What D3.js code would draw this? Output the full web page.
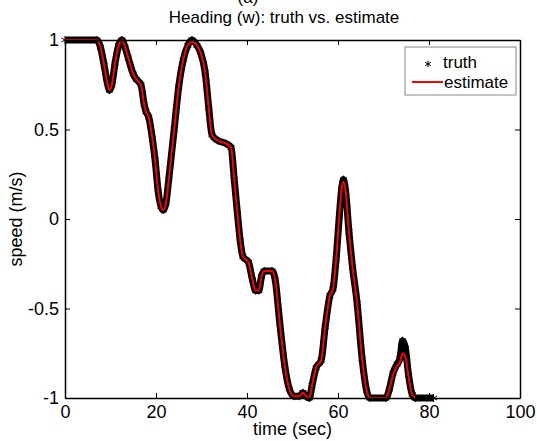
<!DOCTYPE html>
<html>
<head>
<script src="https://d3js.org/d3.v7.min.js"></script>
<style>
  body { margin: 0; background: #fff; }
  text { font-family: "Liberation Sans", Arial, sans-serif; fill: #000; }
</style>
</head>
<body>
<svg width="537" height="441"></svg>
<script>
// truth samples (time in sec, heading speed)
const truthTime = [0, 7, 7.8, 8.6, 9.3, 9.8, 10.3, 11, 11.8, 12.5, 13.2, 13.9, 15, 15.7, 16.7, 17.4, 17.8, 18.4, 19.2, 19.8,
  20.5, 21.1, 21.6, 22.2, 22.8, 24, 25, 26, 27, 27.9, 29, 29.8, 30.8, 31.6, 32.3, 33.5, 35.5, 36.5, 37.2, 37.9,
  38.5, 39.1, 40.3, 41.2, 41.9, 42.6, 43.2, 43.8, 45.5, 46.2, 47.2, 48.3, 49.3, 50.3, 51.5, 52.3, 53, 53.7, 54.3, 55.2,
  56.3, 57.2, 58.2, 58.9, 59.6, 60.3, 60.8, 61.2, 61.7, 62.4, 63.2, 64.2, 65.3, 66.3, 67, 70.5, 71.3, 72.1, 73, 73.6,
  74.2, 74.8, 75.5, 76.3, 77, 81];
const truthValue = [1, 1, 0.96, 0.86, 0.76, 0.72, 0.75, 0.87, 0.97, 1.0, 0.96, 0.9, 0.81, 0.78, 0.75, 0.64, 0.6, 0.57, 0.45, 0.33,
  0.15, 0.07, 0.05, 0.09, 0.22, 0.5, 0.74, 0.89, 0.97, 1.0, 0.97, 0.93, 0.82, 0.62, 0.47, 0.44, 0.42, 0.4, 0.22, 0.03,
  -0.12, -0.21, -0.24, -0.34, -0.4, -0.4, -0.32, -0.29, -0.29, -0.34, -0.58, -0.82, -0.95, -0.99, -0.99, -0.97, -0.99, -1.0, -0.93, -0.83,
  -0.79, -0.6, -0.43, -0.39, -0.22, 0.02, 0.17, 0.22, 0.15, -0.07, -0.27, -0.47, -0.78, -0.96, -1.0, -1.0, -0.95, -0.86, -0.81, -0.78,
  -0.68, -0.72, -0.87, -0.98, -1.0, -1.0];

// estimate (red line), ends before the truth does
const estTime = truthTime.slice(0, truthTime.length - 1);
const estValue = [1, 1, 0.96, 0.86, 0.76, 0.72, 0.75, 0.87, 0.97, 1.0, 0.96, 0.9, 0.81, 0.78, 0.75, 0.64, 0.6, 0.57, 0.45, 0.33,
  0.15, 0.07, 0.05, 0.09, 0.22, 0.5, 0.74, 0.89, 0.97, 0.99, 0.97, 0.93, 0.82, 0.62, 0.47, 0.44, 0.42, 0.4, 0.22, 0.03,
  -0.12, -0.21, -0.24, -0.34, -0.4, -0.4, -0.32, -0.29, -0.29, -0.34, -0.58, -0.82, -0.95, -0.99, -0.99, -0.97, -0.99, -1.0, -0.93, -0.83,
  -0.79, -0.6, -0.43, -0.39, -0.22, 0.02, 0.17, 0.21, 0.15, -0.07, -0.27, -0.47, -0.78, -0.96, -1.0, -1.0, -0.95, -0.87, -0.82, -0.8,
  -0.75, -0.77, -0.88, -0.98, -1.0];

const xTicks = [0, 20, 40, 60, 80, 100];
const yTicks = [-1, -0.5, 0, 0.5, 1];

const svg = d3.select('svg');
const mLeft = 65, mRight = 520, mTop = 40, mBottom = 398;

const x = d3.scaleLinear().domain([0, 100]).range([mLeft, mRight]);
const y = d3.scaleLinear().domain([-1, 1]).range([mBottom, mTop]);

const truth = truthTime.map((t, i) => ({t: t, v: truthValue[i]}));
const est = estTime.map((t, i) => ({t: t, v: estValue[i]}));

const line = d3.line().x(d => x(d.t)).y(d => y(d.v)).curve(d3.curveMonotoneX);

// truth: dense asterisk markers form a thick band
svg.append('path').datum(truth)
  .attr('d', line)
  .attr('fill', 'none')
  .attr('stroke', '#000')
  .attr('stroke-width', 7)
  .attr('stroke-linejoin', 'round');

const star = d3.symbol().type(d3.symbolAsterisk).size(45);
svg.selectAll('path.star').data(truth)
  .join('path')
  .attr('class', 'star')
  .attr('d', star)
  .attr('transform', d => `translate(${x(d.t)},${y(d.v)})`)
  .attr('fill', 'none')
  .attr('stroke', '#000')
  .attr('stroke-width', 1);

svg.append('path').datum(est)
  .attr('d', line)
  .attr('fill', 'none')
  .attr('stroke', '#ff0000')
  .attr('stroke-width', 2);

// axes box with inward ticks (matlab style)
const g = svg.append('g');
g.append('g').attr('transform', `translate(0,${mBottom})`)
  .call(d3.axisBottom(x).tickValues(xTicks).tickSizeInner(-5).tickSizeOuter(0).tickPadding(7));
g.append('g').attr('transform', `translate(0,${mTop})`)
  .call(d3.axisTop(x).tickValues(xTicks).tickSizeInner(-5).tickSizeOuter(0).tickFormat(''));
g.append('g').attr('transform', `translate(${mLeft},0)`)
  .call(d3.axisLeft(y).tickValues(yTicks).tickSizeInner(-5).tickSizeOuter(0).tickPadding(6).tickFormat(d => d));
g.append('g').attr('transform', `translate(${mRight},0)`)
  .call(d3.axisRight(y).tickValues(yTicks).tickSizeInner(-5).tickSizeOuter(0).tickFormat(''));
g.selectAll('.domain').attr('stroke', '#000').attr('stroke-width', 1.5);
g.selectAll('.tick line').attr('stroke', '#000');
g.selectAll('.tick text').style('font-size', '18px').attr('font-family', '"Liberation Sans", Arial, sans-serif');

// titles
svg.append('text').attr('x', 248).attr('y', 3).attr('text-anchor', 'middle')
  .style('font-size', '17px').text('(a)');
svg.append('text').attr('x', 284).attr('y', 23).attr('text-anchor', 'middle')
  .style('font-size', '17px').text('Heading (w): truth vs. estimate');
svg.append('text').attr('x', (mLeft + mRight) / 2).attr('y', 435).attr('text-anchor', 'middle')
  .style('font-size', '18px').text('time (sec)');
svg.append('text').attr('transform', `translate(22,${(mTop + mBottom) / 2}) rotate(-90)`)
  .attr('text-anchor', 'middle').style('font-size', '18px').text('speed (m/s)');

// legend
const lg = svg.append('g');
lg.append('rect').attr('x', 405).attr('y', 47).attr('width', 111).attr('height', 48)
  .attr('fill', '#fff').attr('stroke', '#888').attr('stroke-width', 1);
lg.append('path').attr('d', d3.symbol().type(d3.symbolAsterisk).size(30))
  .attr('transform', 'translate(428,64)').attr('stroke', '#000').attr('fill', 'none');
lg.append('text').attr('x', 443).attr('y', 68).style('font-size', '17px').text('truth');
lg.append('line').attr('x1', 412).attr('x2', 443).attr('y1', 82).attr('y2', 82)
  .attr('stroke', '#ff0000').attr('stroke-width', 2);
lg.append('text').attr('x', 444).attr('y', 88).style('font-size', '17px').text('estimate');
</script>
</body>
</html>
